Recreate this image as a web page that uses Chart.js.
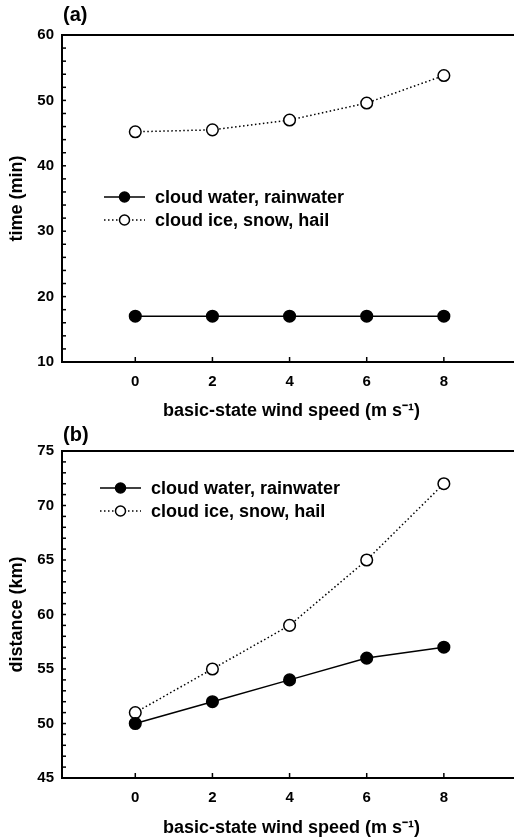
<!DOCTYPE html>
<html>
<head>
<meta charset="utf-8">
<script src="https://cdn.jsdelivr.net/npm/chart.js@4/dist/chart.umd.min.js"></script>
<style>
  body { margin: 0; width: 514px; height: 839px; overflow: hidden; background: #fff; }
  canvas { display: block; }
</style>
</head>
<body>
<canvas id="panelA" width="530" height="420"></canvas>
<canvas id="panelB" width="530" height="419"></canvas>
<script>
// Data
const windSpeed = [0, 2, 4, 6, 8];
const seriesLabels = ['cloud water, rainwater', 'cloud ice, snow, hail'];
const timeWater = [17, 17, 17, 17, 17];
const timeIce = [45.2, 45.5, 47.0, 49.6, 53.8];
const distWater = [50, 52, 54, 56, 57];
const distIce = [51, 55, 59, 65, 72];
const xTicks = [0, 2, 4, 6, 8];
const timeTicks = [10, 20, 30, 40, 50, 60];
const distTicks = [45, 50, 55, 60, 65, 70, 75];

const FONT = '"Liberation Sans", Arial, Helvetica, sans-serif';

function toPoints(values) {
    return values.map((v, i) => ({ x: windSpeed[i], y: v }));
}

// inward ticks, top frame line, legend and panel letter
const figurePlugin = {
    id: 'figureBits',
    beforeDatasetsDraw(chart, args, opts) {
        const ctx = chart.ctx;
        const area = chart.chartArea;
        const xs = chart.scales.x;
        const ys = chart.scales.y;
        ctx.save();
        ctx.strokeStyle = '#000';
        // top frame line
        ctx.lineWidth = 2;
        ctx.beginPath();
        ctx.moveTo(area.left - 1, area.top);
        ctx.lineTo(area.right + 20, area.top);
        ctx.stroke();
        // x ticks
        ctx.lineWidth = 1.5;
        xs.ticks.forEach(t => {
            const px = xs.getPixelForValue(t.value);
            ctx.beginPath();
            ctx.moveTo(px, area.bottom);
            ctx.lineTo(px, area.bottom - 5);
            ctx.stroke();
        });
        // y ticks, minor included
        for (let v = ys.min; v <= ys.max + 1e-9; v += opts.minorStep) {
            const py = ys.getPixelForValue(v);
            ctx.beginPath();
            ctx.moveTo(area.left, py);
            ctx.lineTo(area.left + 4, py);
            ctx.stroke();
        }
        ctx.restore();
    },
    afterDraw(chart, args, opts) {
        const ctx = chart.ctx;
        ctx.save();
        // panel letter
        ctx.fillStyle = '#000';
        ctx.font = 'bold 20px ' + FONT;
        ctx.textBaseline = 'middle';
        ctx.textAlign = 'left';
        ctx.fillText(opts.letter, opts.letterX, opts.letterY);
        // legend
        chart.data.datasets.forEach((ds, i) => {
            const y = opts.legendY + i * opts.legendGap;
            ctx.strokeStyle = '#000';
            ctx.lineWidth = ds.borderWidth;
            ctx.setLineDash(ds.borderDash || []);
            ctx.beginPath();
            ctx.moveTo(opts.legendX, y);
            ctx.lineTo(opts.legendX + 41, y);
            ctx.stroke();
            ctx.setLineDash([]);
            ctx.beginPath();
            ctx.arc(opts.legendX + 20.5, y, 5, 0, Math.PI * 2);
            ctx.fillStyle = ds.pointBackgroundColor;
            ctx.fill();
            ctx.lineWidth = 1.5;
            ctx.stroke();
            ctx.fillStyle = '#000';
            ctx.font = 'bold 18px ' + FONT;
            ctx.fillText(ds.label, opts.legendX + 51, y + 1);
        });
        ctx.restore();
    }
};

function makePanel(id, water, ice, yTicks, yTitle, layout) {
    const solid = {
        label: seriesLabels[0],
        data: toPoints(water),
        borderColor: '#000',
        borderWidth: 1.5,
        pointRadius: 5.8,
        pointBackgroundColor: '#000',
        pointBorderColor: '#000',
        pointBorderWidth: 1.5,
        tension: 0
    };
    const dotted = {
        label: seriesLabels[1],
        data: toPoints(ice),
        borderColor: '#000',
        borderWidth: 1.5,
        borderDash: [1.5, 2.5],
        pointRadius: 5.8,
        pointBackgroundColor: '#fff',
        pointBorderColor: '#000',
        pointBorderWidth: 1.5,
        tension: 0
    };

    return new Chart(document.getElementById(id), {
        type: 'line',
        data: { datasets: [solid, dotted] },
        plugins: [figurePlugin],
        options: {
            responsive: false,
            animation: false,
            layout: { padding: { top: layout.top, right: 9, left: 0, bottom: 0 } },
            plugins: {
                legend: { display: false },
                tooltip: { enabled: false },
                figureBits: {
                    minorStep: layout.minorStep,
                    letter: layout.letter,
                    letterX: 63,
                    letterY: 15,
                    legendX: layout.legendX,
                    legendY: layout.legendY,
                    legendGap: layout.legendGap
                }
            },
            scales: {
                x: {
                    type: 'linear',
                    min: -1.9,
                    max: 10,
                    afterBuildTicks: s => { s.ticks = xTicks.map(v => ({ value: v })); },
                    afterFit: s => { s.height = layout.xHeight; },
                    grid: { display: false, drawTicks: false },
                    border: { display: true, color: '#000', width: 2 },
                    ticks: {
                        color: '#000',
                        padding: 11,
                        font: { family: FONT, size: 15, weight: 'bold' }
                    },
                    title: {
                        display: true,
                        text: 'basic-state wind speed (m s\u207B\u00B9)',
                        color: '#000',
                        padding: { top: 0, bottom: layout.titlePad },
                        font: { family: FONT, size: 18, weight: 'bold', lineHeight: 1 }
                    }
                },
                y: {
                    min: yTicks[0],
                    max: yTicks[yTicks.length - 1],
                    afterBuildTicks: s => { s.ticks = yTicks.map(v => ({ value: v })); },
                    afterFit: s => { s.width = 62; },
                    grid: { display: false, drawTicks: false },
                    border: { display: true, color: '#000', width: 2 },
                    ticks: {
                        color: '#000',
                        padding: 8,
                        font: { family: FONT, size: 15, weight: 'bold' }
                    },
                    title: {
                        display: true,
                        text: yTitle,
                        color: '#000',
                        padding: { top: 8, bottom: 0 },
                        font: { family: FONT, size: 18, weight: 'bold', lineHeight: 1 }
                    }
                }
            }
        }
    });
}

makePanel('panelA', timeWater, timeIce, timeTicks, 'time (min)', {
    top: 35, xHeight: 58, titlePad: 0, minorStep: 2, letter: '(a)',
    legendX: 104, legendY: 197, legendGap: 23
});
makePanel('panelB', distWater, distIce, distTicks, 'distance (km)', {
    top: 31, xHeight: 61, titlePad: 2, minorStep: 1, letter: '(b)',
    legendX: 100, legendY: 68, legendGap: 23
});
</script>
</body>
</html>
